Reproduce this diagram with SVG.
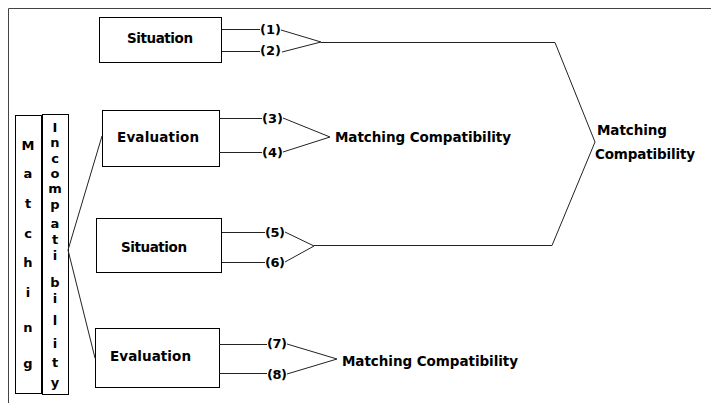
<svg xmlns="http://www.w3.org/2000/svg" width="711" height="403" viewBox="0 0 711 403">
<style>
text{font-family:"DejaVu Sans","Liberation Sans",sans-serif;font-weight:bold;font-size:13.5px;fill:#000}
.lbl{font-size:13px}
.v{text-anchor:middle;font-size:13px}
.box{fill:#fff;stroke:#000;stroke-width:1}
.ln{fill:none;stroke:#222;stroke-width:1}
</style>
<rect width="711" height="403" fill="#fff"/>
<path d="M8.5,403 V8.5 H711" fill="none" stroke="#444" stroke-width="1"/>

<g id="matching">
<rect class="box" x="15.5" y="115.5" width="26" height="278"/>
<text class="v" x="28" y="150">M</text>
<text class="v" x="28" y="178">a</text>
<text class="v" x="28" y="208">t</text>
<text class="v" x="28" y="238">c</text>
<text class="v" x="28" y="267">h</text>
<text class="v" x="28" y="297">i</text>
<text class="v" x="28" y="332">n</text>
<text class="v" x="28" y="368">g</text>
</g>

<g id="incompatibility">
<rect class="box" x="42.5" y="114.5" width="26" height="280"/>
<text class="v" x="55" y="132">I</text>
<text class="v" x="55" y="147">n</text>
<text class="v" x="55" y="163">c</text>
<text class="v" x="55" y="178">o</text>
<text class="v" x="55" y="193">m</text>
<text class="v" x="55" y="209">p</text>
<text class="v" x="55" y="228">a</text>
<text class="v" x="55" y="244">t</text>
<text class="v" x="55" y="260">i</text>
<text class="v" x="55" y="287">b</text>
<text class="v" x="55" y="303">i</text>
<text class="v" x="55" y="325">l</text>
<text class="v" x="55" y="348">i</text>
<text class="v" x="55" y="367">t</text>
<text class="v" x="55" y="387">y</text>
</g>

<g id="situation1">
<rect class="box" x="99.5" y="17.5" width="122" height="45"/>
<text x="127" y="43" textLength="66">Situation</text>
</g>
<g id="evaluation1">
<rect class="box" x="102.5" y="110.5" width="117" height="56"/>
<text x="117" y="142" textLength="82">Evaluation</text>
</g>
<g id="situation2">
<rect class="box" x="96.5" y="218.5" width="125" height="54"/>
<text x="121" y="252" textLength="66">Situation</text>
</g>
<g id="evaluation2">
<rect class="box" x="95.5" y="328.5" width="124" height="59"/>
<text x="110" y="361" textLength="81">Evaluation</text>
</g>

<g id="labels">
<text class="lbl" x="260" y="34" textLength="21">(1)</text>
<text class="lbl" x="260" y="55" textLength="21">(2)</text>
<text class="lbl" x="262" y="123" textLength="21">(3)</text>
<text class="lbl" x="262" y="157" textLength="21">(4)</text>
<text class="lbl" x="265" y="237" textLength="20">(5)</text>
<text class="lbl" x="265" y="267" textLength="20">(6)</text>
<text class="lbl" x="267" y="348" textLength="20">(7)</text>
<text class="lbl" x="267" y="379" textLength="20">(8)</text>
</g>

<g id="result-evaluation1">
<text x="335" y="142" textLength="176">Matching Compatibility</text>
</g>
<g id="result-evaluation2">
<text x="342" y="366" textLength="176">Matching Compatibility</text>
</g>
<g id="result-main">
<text x="597" y="135" textLength="70">Matching</text>
<text x="595" y="159" textLength="100">Compatibility</text>
</g>

<g id="connectors" class="ln">
<path class="ln" d="M68,250 L102,136 M68,250 L95,358"/>
<path class="ln" d="M222,29.5 H260 M222,51.5 H260"/>
<path class="ln" d="M281,30 L321,42 L282,52 M321,42.5 H555 L595,142 L552,245.5 H314"/>
<path class="ln" d="M219,118.5 H262 M219,152.5 H262"/>
<path class="ln" d="M283,118 L330,137 L283,152"/>
<path class="ln" d="M222,232.5 H265 M222,262.5 H265"/>
<path class="ln" d="M285,232 L314,246 L285,262"/>
<path class="ln" d="M219,344.5 H267 M219,373.5 H267"/>
<path class="ln" d="M287,344 L337,359 L287,374"/>
</g>
</svg>
